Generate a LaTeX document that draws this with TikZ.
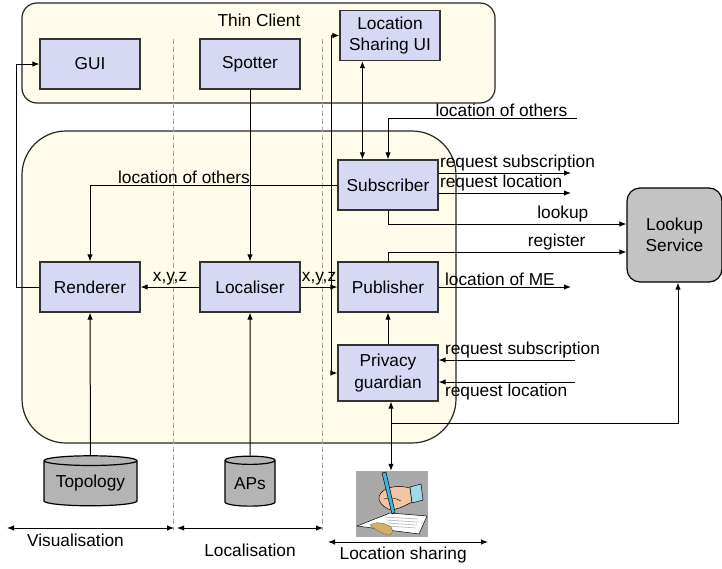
\documentclass[tikz,border=0pt]{standalone}
\usepackage{fontspec}
\setmainfont{Liberation Sans}
\usetikzlibrary{arrows.meta, shapes.geometric, calc, positioning}
\definecolor{boxBlue}{HTML}{D7D9F4}
\definecolor{zoneYellow}{HTML}{FFFDE9}
\definecolor{storeGray}{HTML}{B4B4B4}
\definecolor{serviceGray}{HTML}{C3C3C3}
\definecolor{sketchGray}{HTML}{A9A9A9}
\definecolor{edgeGray}{HTML}{333333}
\definecolor{skin}{HTML}{F2C4A4}
\definecolor{penBlue}{HTML}{3FB6D8}
\definecolor{keyTan}{HTML}{D6AE6A}
\newcommand{\diagFont}{\fontsize{17.3}{21.5}\selectfont}
\tikzset{
    comp/.style={rectangle, draw=edgeGray, line width=1.2pt, fill=boxBlue, minimum width=100pt, minimum height=50pt, inner sep=0pt, align=center},
    service/.style={rectangle, rounded corners=13pt, draw=black, line width=1.2pt, fill=serviceGray, minimum width=95pt, minimum height=94pt, align=center},
    store/.style={cylinder, shape border rotate=90, draw=black, line width=1.2pt, fill=storeGray, minimum height=50pt, inner sep=0pt},
    zone/.style={draw=black!85, line width=1.2pt, fill=zoneYellow},
    flowEdge/.style={-{Latex[length=7pt,width=5.5pt]}, line width=1pt},
    bothEdge/.style={{Latex[length=7pt,width=5.5pt]}-{Latex[length=7pt,width=5.5pt]}, line width=1pt},
    splitLine/.style={gray!70, dash pattern=on 5pt off 3pt, line width=0.8pt},
    tag/.style={inner sep=1pt},
}
\newcommand{\drawFlow}[3]{
    \draw[flowEdge] (#1) -- node[above, tag] {#3} (#2);
}
\newcommand{\drawSpan}[5]{
    \draw[bothEdge] (#1) -- node[pos=#4, below=#5] {#3} (#2);
}

\begin{document}
\begin{tikzpicture}[x=1pt, y=-1pt, every node/.style={font=\diagFont}]
    \useasboundingbox (0,0) rectangle (722,568);

    % thin client and device zones
    \draw[zone, rounded corners=15pt] (22,3) rectangle (495,103);
    \draw[zone, rounded corners=44pt] (22,131) rectangle (456,443);
    \node (TC) at (259,20) {Thin Client};

    % layer borders
    \draw[splitLine] (173,39) -- (173,530);
    \draw[splitLine] (322,39) -- (322,530);

    % components
    \node[comp] (GUI) at (90,64) {GUI};
    \node[comp] (Spot) at (250,64) {Spotter};
    \node[comp] (LSUI) at (390,35.5) {Location\\Sharing UI};
    \node[comp] (Sub) at (388,185) {Subscriber};
    \node[comp] (Rend) at (90,287) {Renderer};
    \node[comp] (Loc) at (250,287) {Localiser};
    \node[comp] (Pub) at (388,287) {Publisher};
    \node[comp, minimum height=56pt] (Priv) at (388,373) {Privacy\\guardian};
    \node[service] (Look) at (674.5,235) {Lookup\\Service};
    \node[store, minimum width=93pt, aspect=0.14] (Topo) at (90.5,483.5) {Topology};
    \node[store, minimum width=50pt, aspect=0.26] (APs) at (250,483.5) {APs};
    \node[rectangle, fill=sketchGray, minimum width=72pt, minimum height=66pt, inner sep=0pt] (Sketch) at (392,504) {};

    % free ends
    \coordinate (br) at (331,287);
    \coordinate (othersIn) at (577,118);
    \coordinate (reqSubOut) at (571,173);
    \coordinate (reqLocOut) at (571,193);
    \coordinate (meOut) at (571,287);
    \coordinate (reqSubIn) at (575,360);
    \coordinate (reqLocIn) at (575,382);

    % visualisation
    \draw[flowEdge] (Rend.west) -- ++(-23,0) |- (GUI.west);
    \draw[flowEdge] (Sub.west) -| node[pos=0.31, above, tag] {location of others} (Rend.north);
    \draw[flowEdge] (Topo) -- (Rend);

    % localisation
    \draw[flowEdge] (Spot) -- (Loc);
    \draw[flowEdge] (APs) -- (Loc);
    \drawFlow{Loc}{Rend}{x,y,z}
    \drawFlow{Loc}{Pub}{x,y,z}
    \draw[flowEdge] (br) |- (LSUI.west);
    \draw[flowEdge] (br) |- (Priv.west);

    % location sharing
    \draw[bothEdge] ([xshift=25pt]Sub.north west) -- ([xshift=25pt]Sub.north west |- LSUI.south);
    \draw[flowEdge] (othersIn) -| node[pos=0.2, above, tag] {location of others} (Sub.north);
    \draw[flowEdge] ([yshift=12pt]Sub.east) -- node[pos=0, anchor=south west, tag] {request subscription} (reqSubOut);
    \draw[flowEdge] ([yshift=-8pt]Sub.east) -- node[pos=0, anchor=south west, tag] {request location} (reqLocOut);
    \draw[flowEdge] (Sub.south) |- node[pos=0.81, anchor=south west, tag] {lookup} ([yshift=11pt]Look.west);
    \draw[flowEdge] (Pub.north) |- node[pos=0.79, anchor=south west, tag] {register} ([yshift=-17pt]Look.west);
    \draw[flowEdge] (Pub.east) -- node[pos=0, anchor=south west, xshift=5pt, tag] {location of ME} (meOut);
    \draw[flowEdge] (Priv) -- (Pub);
    \draw[flowEdge] (reqSubIn) -- node[pos=1, anchor=south west, xshift=5pt, tag] {request subscription} ([yshift=13pt]Priv.east);
    \draw[flowEdge] (reqLocIn) -- node[pos=1, anchor=north west, xshift=5pt, tag] {request location} ([yshift=-9pt]Priv.east);
    \draw[bothEdge] ([xshift=3pt]Priv.south) -- ([xshift=3pt]Priv.south |- Sketch.north);
    \draw[flowEdge] ([xshift=3pt]Priv.south) ++(0,22) -| ([xshift=3.5pt]Look.south);

    % pen and paper
    \draw[fill=white, line width=0.5pt] (357,526) -- (390,513) -- (427,516) -- (419,534) -- cycle;
    \foreach \k in {0,3,6,9} {
        \draw[gray!60, line width=0.6pt] (385+\k*0.3,517+\k) -- (418-\k*0.2,519+\k);
    }
    \draw[fill=keyTan, draw=keyTan!60!black, line width=0.4pt] (370,525) .. controls (376,521) and (385,523) .. (391,527) .. controls (394,531) and (392,536) .. (388,535) .. controls (382,533) and (375,530) .. cycle;
    \draw[fill=skin, line width=0.5pt] (379,497) .. controls (381,488) and (396,484) .. (410,488) -- (412,502) .. controls (403,507) and (394,511) .. (388,509) .. controls (382,506) and (378,501) .. cycle;
    \draw[line width=0.4pt] (384,499) .. controls (390,497) and (396,498) .. (401,501);
    \draw[fill=penBlue!50, line width=0.5pt] (410,487) -- (421,484) -- (423,500) -- (412,503) -- cycle;
    \draw[fill=penBlue, line width=0.5pt] (382,473) -- (386,472) -- (395,512) -- (392,514) -- cycle;

    % layers
    \drawSpan{7,528}{174,528}{Visualisation}{0.41}{2pt}
    \drawSpan{177,528}{323,528}{Localisation}{0.5}{12pt}
    \drawSpan{328,542}{488,542}{Location sharing}{0.47}{1pt}

\end{tikzpicture}
\end{document}
